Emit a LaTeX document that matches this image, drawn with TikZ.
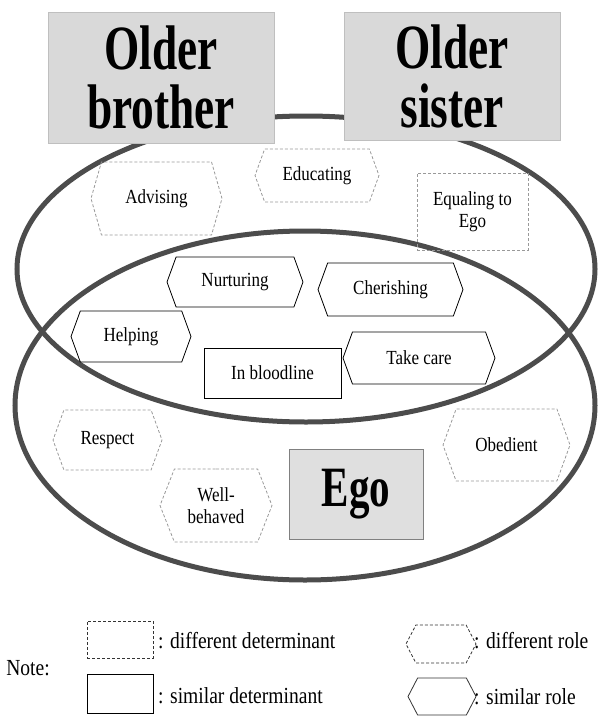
\documentclass[tikz,border=0pt]{standalone}
\usepackage{fontspec}
\setmainfont{Liberation Serif}[FakeStretch=0.85]
\newfontfamily\bigserif{Liberation Serif}[FakeStretch=0.72]
\usepackage{tikz}
\usetikzlibrary{shapes.symbols, positioning}

\begin{document}
\begin{tikzpicture}[
    x=1pt, y=-1pt,
    ring/.style={draw=black!70, line width=5pt},
    person/.style={rectangle, draw=gray!50, fill=gray!30, inner sep=0pt, align=center, font=\bigserif\bfseries\fontsize{63}{59}\selectfont},
    rolehex/.style={signal, signal to=west and east, signal pointer angle=140, draw=black, line width=0.8pt, inner sep=0pt, align=center, font=\fontsize{20}{22}\selectfont},
    difhex/.style={rolehex, draw=gray!80, dash pattern=on 3pt off 2pt},
    detbox/.style={rectangle, draw=black, line width=0.8pt, inner sep=0pt, align=center, font=\fontsize{20}{22}\selectfont},
    difbox/.style={detbox, draw=gray!80, dash pattern=on 3pt off 2pt},
    legtext/.style={anchor=west, inner sep=0pt, font=\fontsize{23}{25}\selectfont}
]
\useasboundingbox (0,0) rectangle (606,717);

% The two circles of roles
\draw[ring] (306,269) ellipse [x radius=289pt, y radius=153pt];
\draw[ring] (305,405.5) ellipse [x radius=290pt, y radius=174.5pt];

% Older siblings
\node[person, minimum width=226pt, minimum height=131pt] (bro) at (161,77.5) {Older\\brother};
\node[person, minimum width=216pt, minimum height=128pt] (sis) at (452,76) {Older\\sister};

% Roles of the older siblings only
\node[difhex, minimum width=131pt, minimum height=73pt, signal pointer angle=148] (advis) at (156.5,198.5) {Advising};
\node[difhex, minimum width=124pt, minimum height=53pt] (educ) at (317,175.5) {Educating};
\node[difbox, minimum width=111pt, minimum height=77pt] (equal) at (472.5,211.5) {Equaling to\\Ego};

% Shared roles
\node[rolehex, minimum width=136pt, minimum height=50pt] (nurt) at (235,282) {Nurturing};
\node[rolehex, minimum width=145pt, minimum height=53pt] (cher) at (390.5,289.5) {Cherishing};
\node[rolehex, minimum width=120pt, minimum height=51pt] (help) at (131,336.5) {Helping};
\node[detbox, minimum width=137pt, minimum height=50pt] (blood) at (272.5,373) {In bloodline};
\node[rolehex, minimum width=152pt, minimum height=52pt] (care) at (419,358) {Take care};

% Roles of Ego
\node[difhex, minimum width=109pt, minimum height=60pt] (resp) at (107.5,440) {Respect};
\node[difhex, minimum width=127pt, minimum height=72pt] (obed) at (506.5,445) {Obedient};
\node[difhex, minimum width=112pt, minimum height=73pt, signal pointer angle=137] (wellb) at (216,505.5) {Well-\\behaved};
\node[rectangle, draw=gray, fill=gray!25, minimum width=134pt, minimum height=90pt, font=\bigserif\bfseries\fontsize{57}{57}\selectfont] (ego) at (356,494) {Ego};

% Note
\node[inner sep=0pt, font=\fontsize{23}{25}\selectfont] (note) at (28,668) {Note:};
\node[difbox, draw=black!80, minimum width=66pt, minimum height=37pt] (ldet1) at (120,639.5) {};
\node[legtext] (tdet1) at (158,641) {: different determinant};
\node[detbox, minimum width=66pt, minimum height=39pt] (ldet2) at (120,693.5) {};
\node[legtext] (tdet2) at (158,696) {: similar determinant};
\node[difhex, draw=black!80, minimum width=70pt, minimum height=38pt, signal pointer angle=125] (lrole1) at (441,644) {};
\node[legtext] (trole1) at (474,641) {: different role};
\node[rolehex, draw=black!80, minimum width=68pt, minimum height=37pt, signal pointer angle=125] (lrole2) at (442,696.5) {};
\node[legtext] (trole2) at (474,697) {: similar role};

\end{tikzpicture}
\end{document}
